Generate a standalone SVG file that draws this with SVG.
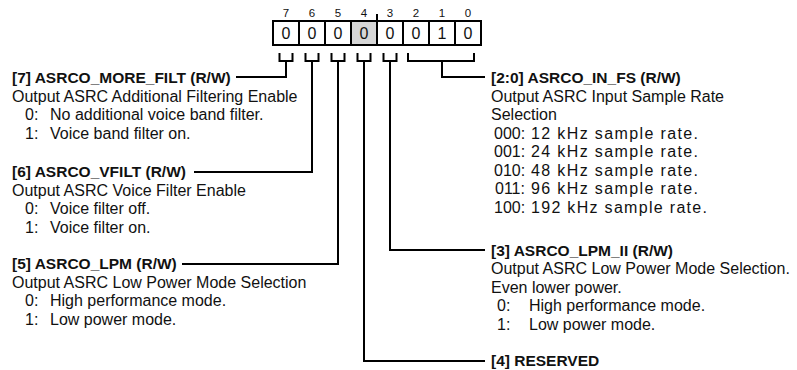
<svg xmlns="http://www.w3.org/2000/svg" width="797" height="370" viewBox="0 0 797 370">
<style>
text{font-family:"Liberation Sans",Arial,Helvetica,sans-serif;fill:#111}
.t{font-size:15.5px;font-weight:bold}
.b{font-size:16px}
.bit{font-size:11.5px;text-anchor:middle}
.val{font-size:16px;text-anchor:middle}
.cell{fill:#fff;stroke:#000;stroke-width:2}
.res{fill:#d6d6d6}
.ln{fill:none;stroke:#000;stroke-width:2;stroke-linejoin:miter}
</style>
<rect width="797" height="370" fill="#fff"/>
<g id="register">
<rect class="cell" x="273" y="21" width="26" height="24"/>
<rect class="cell" x="299" y="21" width="26" height="24"/>
<rect class="cell" x="325" y="21" width="26" height="24"/>
<rect class="cell res" x="351" y="21" width="26" height="24"/>
<rect class="cell" x="377" y="21" width="26" height="24"/>
<rect class="cell" x="403" y="21" width="26" height="24"/>
<rect class="cell" x="429" y="21" width="26" height="24"/>
<rect class="cell" x="455" y="21" width="26" height="24"/>
<line class="ln" x1="377" y1="14" x2="377" y2="21"/>
<text class="bit" x="286" y="16.5">7</text>
<text class="bit" x="312" y="16.5">6</text>
<text class="bit" x="338" y="16.5">5</text>
<text class="bit" x="364" y="16.5">4</text>
<text class="bit" x="390" y="16.5">3</text>
<text class="bit" x="416" y="16.5">2</text>
<text class="bit" x="442" y="16.5">1</text>
<text class="bit" x="468" y="16.5">0</text>
<text class="val" x="286" y="39">0</text>
<text class="val" x="312" y="39">0</text>
<text class="val" x="338" y="39">0</text>
<text class="val" x="364" y="39">0</text>
<text class="val" x="390" y="39">0</text>
<text class="val" x="416" y="39">0</text>
<text class="val" x="442" y="39">1</text>
<text class="val" x="468" y="39">0</text>
</g>
<g id="connectors">
<path class="ln" d="M279.5,53V61H292.5V53M286,61V77H236"/>
<path class="ln" d="M305.5,53V61H318.5V53M312,61V172H194"/>
<path class="ln" d="M331.5,53V61H344.5V53M338,61V264H182"/>
<path class="ln" d="M357.5,53V61H370.5V53M364,61V361H485"/>
<path class="ln" d="M383.5,53V61H396.5V53M390,61V250H485"/>
<path class="ln" d="M408,53V61H474V53M442,61V77H485"/>
</g>
<g id="f7">
<text class="t" x="12" y="83">[7] ASRCO_MORE_FILT (R/W)</text>
<text class="b" x="12" y="101.5">Output ASRC Additional Filtering Enable</text>
<text class="b" y="120"><tspan x="25">0:</tspan><tspan x="50">No additional voice band filter.</tspan></text>
<text class="b" y="138.5"><tspan x="25">1:</tspan><tspan x="50">Voice band filter on.</tspan></text>
</g>
<g id="f6">
<text class="t" x="12" y="177">[6] ASRCO_VFILT (R/W)</text>
<text class="b" x="12" y="195.5">Output ASRC Voice Filter Enable</text>
<text class="b" y="214"><tspan x="25">0:</tspan><tspan x="50">Voice filter off.</tspan></text>
<text class="b" y="232.5"><tspan x="25">1:</tspan><tspan x="50">Voice filter on.</tspan></text>
</g>
<g id="f5">
<text class="t" x="12" y="269">[5] ASRCO_LPM (R/W)</text>
<text class="b" x="12" y="287.5">Output ASRC Low Power Mode Selection</text>
<text class="b" y="306"><tspan x="25">0:</tspan><tspan x="50">High performance mode.</tspan></text>
<text class="b" y="324.5"><tspan x="25">1:</tspan><tspan x="50">Low power mode.</tspan></text>
</g>
<g id="f20">
<text class="t" x="491" y="83">[2:0] ASRCO_IN_FS (R/W)</text>
<text class="b" x="491" y="101.5">Output ASRC Input Sample Rate</text>
<text class="b" x="491" y="120">Selection</text>
<text class="b" x="494" y="138.5">000:</text>
<text class="b" x="531" y="138.5" textLength="167" lengthAdjust="spacing">12 kHz sample rate.</text>
<text class="b" x="494" y="157">001:</text>
<text class="b" x="531" y="157" textLength="167" lengthAdjust="spacing">24 kHz sample rate.</text>
<text class="b" x="494" y="175.5">010:</text>
<text class="b" x="531" y="175.5" textLength="167" lengthAdjust="spacing">48 kHz sample rate.</text>
<text class="b" x="495" y="194">011:</text>
<text class="b" x="531" y="194" textLength="167" lengthAdjust="spacing">96 kHz sample rate.</text>
<text class="b" x="494" y="212.5">100:</text>
<text class="b" x="531" y="212.5" textLength="176" lengthAdjust="spacing">192 kHz sample rate.</text>
</g>
<g id="f3">
<text class="t" x="491" y="255.5">[3] ASRCO_LPM_II (R/W)</text>
<text class="b" x="491" y="274">Output ASRC Low Power Mode Selection.</text>
<text class="b" x="491" y="292.5">Even lower power.</text>
<text class="b" y="311"><tspan x="497">0:</tspan><tspan x="529">High performance mode.</tspan></text>
<text class="b" y="329.5"><tspan x="497">1:</tspan><tspan x="529">Low power mode.</tspan></text>
</g>
<g id="f4">
<text class="t" x="491" y="366">[4] RESERVED</text>
</g>
</svg>
